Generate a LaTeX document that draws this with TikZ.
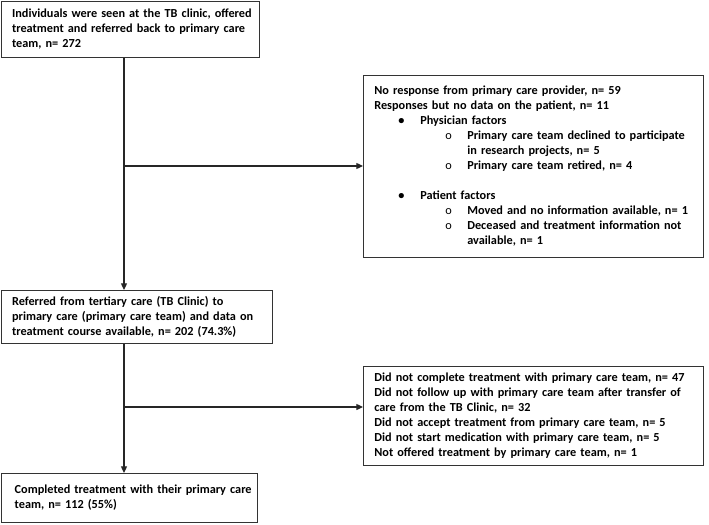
\documentclass[tikz,border=0pt]{standalone}
\usepackage{fontspec}
\setmainfont{Carlito}
\usetikzlibrary{arrows.meta}
\newcommand\boxlines[1]{\begin{tabular}{@{}l@{}}#1\end{tabular}}
\begin{document}
\begin{tikzpicture}[x=0.75pt,y=-0.75pt,
  box/.style={draw=black!80, line width=1pt, anchor=north west, align=left,
    inner xsep=8pt, inner ysep=2pt,
    font=\bfseries\fontsize{9.2}{11.25}\selectfont},
  arr/.style={draw=black!85, line width=0.9pt, -{Triangle[length=5pt,width=4.5pt]}}]
\useasboundingbox (0,0) rectangle (709,524);
\node[box, text width=177.7pt, minimum height=42.2pt] (b1) at (0.75,0.75)
  {\boxlines{Individuals were seen at the TB clinic, offered\\treatment and referred back to primary care\\team, n= 272}};
\node[box, text width=187.4pt, minimum height=39.75pt] (b2) at (0.75,290)
  {\boxlines{Referred from tertiary care (TB Clinic) to\\primary care (primary care team) and data on\\treatment course available, n= 202 (74.3\%)}};
\node[box, text width=239pt, minimum height=136.5pt] (b3) at (363,75)
  {\boxlines{No response from primary care provider, n= 59\\
   Responses but no data on the patient, n= 11\\
   \hspace*{18pt}\makebox[16.5pt][l]{•}Physician factors\\
   \hspace*{53.25pt}\makebox[16.5pt][l]{\mdseries o}Primary care team declined to participate\\
   \hspace*{69.75pt}in research projects, n= 5\\
   \hspace*{53.25pt}\makebox[16.5pt][l]{\mdseries o}Primary care team retired, n= 4\\[11.25pt]
   \hspace*{18pt}\makebox[16.5pt][l]{•}Patient factors\\
   \hspace*{53.25pt}\makebox[16.5pt][l]{\mdseries o}Moved and no information available, n= 1\\
   \hspace*{53.25pt}\makebox[16.5pt][l]{\mdseries o}Deceased and treatment information not\\
   \hspace*{69.75pt}available, n= 1}};
\node[box, text width=239pt, minimum height=74.25pt] (b4) at (363,366)
  {\boxlines{Did not complete treatment with primary care team, n= 47\\
   Did not follow up with primary care team after transfer of\\
   care from the TB Clinic, n= 32\\
   Did not accept treatment from primary care team, n= 5\\
   Did not start medication with primary care team, n= 5\\
   Not offered treatment by primary care team, n= 1}};
\node[box, inner xsep=10pt, text width=172.2pt, minimum height=36.75pt] (b5) at (0.75,473)
  {\boxlines{Completed treatment with their primary care\\team, n= 112 (55\%)}};
\coordinate (v) at (124,0);
\coordinate (j1) at (124,166);
\coordinate (j2) at (124,407);
\draw[arr] (b1.south -| v) -- (b2.north -| v);
\draw[arr] (j1) -- (j1 -| b3.west);
\draw[arr] (b2.south -| v) -- (b5.north -| v);
\draw[arr] (j2) -- (j2 -| b4.west);
\end{tikzpicture}
\end{document}
